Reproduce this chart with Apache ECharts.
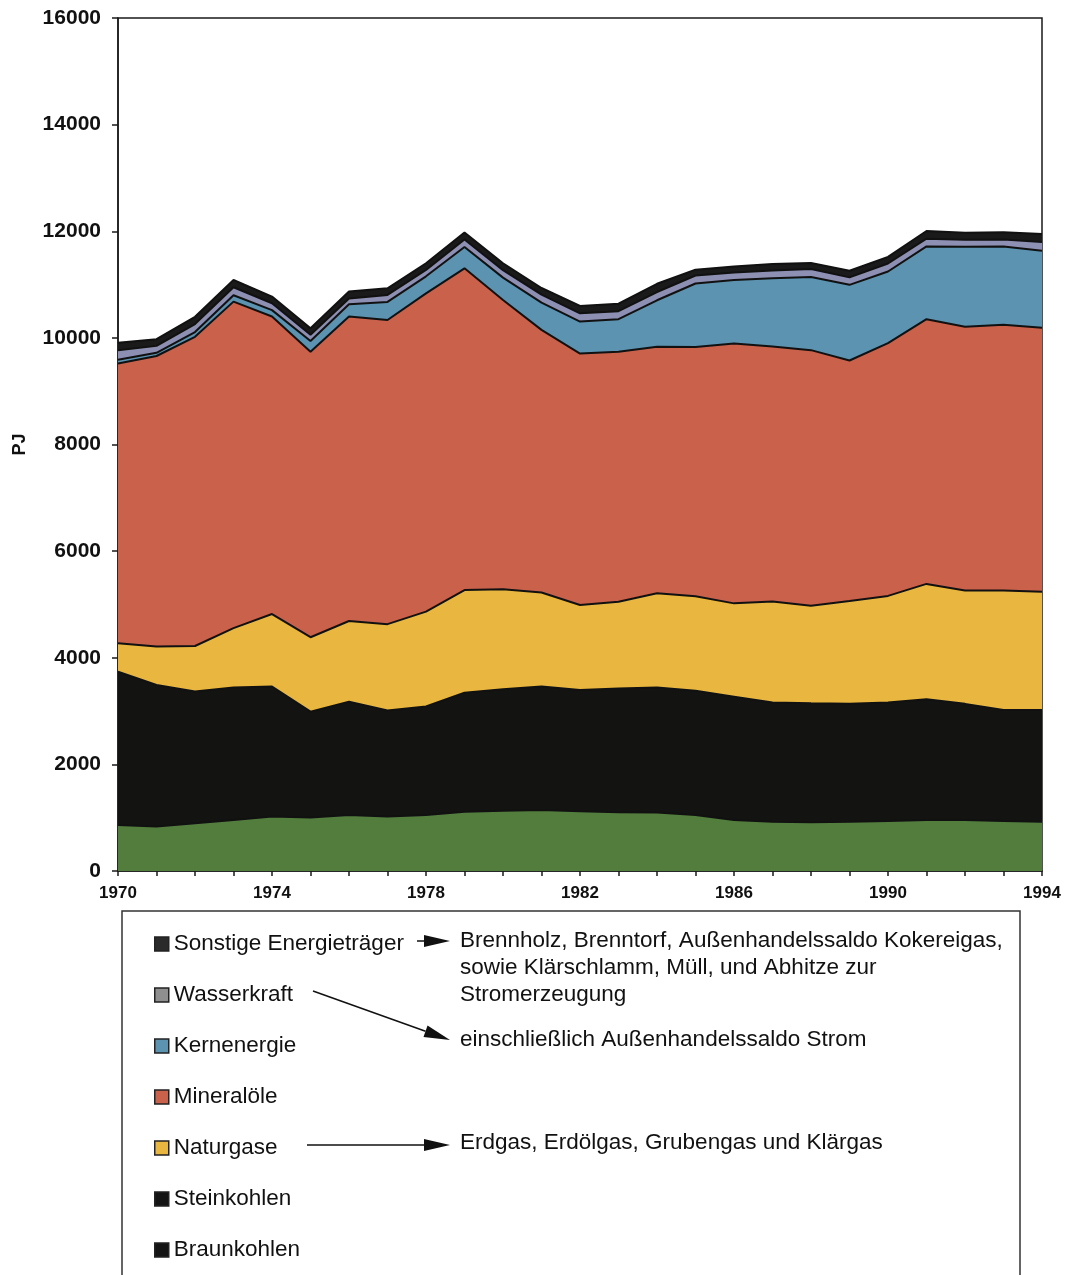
<!DOCTYPE html>
<html>
<head>
<meta charset="utf-8">
<script src="https://cdn.jsdelivr.net/npm/echarts@6/dist/echarts.min.js"></script>
<style>
  html, body { margin: 0; padding: 0; background: #ffffff; }
  #chart { width: 1066px; height: 1275px; }
</style>
</head>
<body>
<div id="chart"></div>
<script>
// Primärenergieverbrauch nach Energieträgern, 1970–1994, in PJ
const years = ['1970','1971','1972','1973','1974','1975','1976','1977','1978','1979','1980','1981','1982',
               '1983','1984','1985','1986','1987','1988','1989','1990','1991','1992','1993','1994'];

const braunkohlen = [865, 835, 895, 955, 1020, 1005, 1050, 1020, 1050, 1110, 1130, 1145, 1120,
                     1100, 1095, 1050, 955, 925, 915, 925, 940, 955, 955, 940, 925];
const steinkohlen = [2875, 2655, 2470, 2485, 2440, 1985, 2125, 1990, 2035, 2235, 2280, 2315, 2275,
                     2325, 2345, 2330, 2315, 2235, 2230, 2210, 2220, 2265, 2180, 2080, 2095];
const naturgase   = [530, 720, 855, 1115, 1360, 1395, 1515, 1620, 1780, 1925, 1875, 1765, 1595,
                     1625, 1770, 1775, 1750, 1895, 1830, 1930, 2000, 2165, 2125, 2240, 2220];
const mineraloele = [5250, 5450, 5800, 6125, 5580, 5355, 5710, 5705, 5970, 6035, 5425, 4925, 4715,
                     4690, 4625, 4675, 4875, 4785, 4795, 4510, 4740, 4965, 4950, 4985, 4950];
const kernenergie = [70, 60, 90, 120, 120, 200, 230, 340, 320, 400, 420, 510, 600,
                     610, 870, 1190, 1190, 1280, 1370, 1420, 1345, 1365, 1500, 1470, 1445];
const wasserkraft = [180, 130, 150, 150, 130, 120, 110, 130, 120, 140, 140, 150, 155,
                     150, 155, 150, 140, 145, 150, 140, 150, 145, 130, 130, 165];
const sonstige    = [140, 125, 135, 135, 125, 120, 130, 125, 125, 130, 130, 125, 140,
                     140, 155, 110, 115, 120, 115, 125, 125, 145, 130, 135, 150];

const yTicks = { min: 0, max: 16000, interval: 2000 };

const seriesDefs = [
  { name: 'Braunkohlen', data: braunkohlen, color: '#527d3d', legendColor: '#141414' },
  { name: 'Steinkohlen', data: steinkohlen, color: '#131311', legendColor: '#141414' },
  { name: 'Naturgase',   data: naturgase,   color: '#e9b740', legendColor: '#e9b740' },
  { name: 'Mineralöle',  data: mineraloele, color: '#c9614b', legendColor: '#c9614b' },
  { name: 'Kernenergie', data: kernenergie, color: '#5b93b1', legendColor: '#5b93b1' },
  { name: 'Wasserkraft', data: wasserkraft, color: '#8d8fb3', legendColor: '#8f8f8f' },
  { name: 'Sonstige Energieträger', data: sonstige, color: '#1a1a1a', legendColor: '#2a2a2a' }
];

const FONT = '"Liberation Sans", Arial, Helvetica, sans-serif';
const TEXT_SIZE = 22.5;

// Filled arrow: straight shaft plus a triangular head at the end point
function arrow(x1, y1, x2, y2, headLen, headHalf) {
  const dx = x2 - x1, dy = y2 - y1;
  const len = Math.sqrt(dx * dx + dy * dy);
  const ux = dx / len, uy = dy / len;
  const bx = x2 - ux * headLen, by = y2 - uy * headLen;
  const px = -uy * headHalf, py = ux * headHalf;
  return [
    { type: 'line', shape: { x1: x1, y1: y1, x2: bx, y2: by },
      style: { stroke: '#111', lineWidth: 1.5 }, z: 10 },
    { type: 'polygon', shape: { points: [[x2, y2], [bx + px, by + py], [bx - px, by - py]] },
      style: { fill: '#111' }, z: 10 }
  ];
}

function note(x, y, str) {
  return { type: 'text', x: x, y: y,
           style: { text: str, font: TEXT_SIZE + 'px ' + FONT, fill: '#111',
                    verticalAlign: 'middle', align: 'left' }, z: 10 };
}

const chart = echarts.init(document.getElementById('chart'), null, { renderer: 'canvas' });

chart.setOption({
  backgroundColor: '#ffffff',
  animation: false,
  grid: { left: 118, right: 24, top: 18, bottom: 404, show: true,
          borderColor: '#1a1a1a', borderWidth: 1.5, backgroundColor: 'transparent' },
  xAxis: {
    type: 'category',
    data: years,
    boundaryGap: false,
    axisLine: { lineStyle: { color: '#1a1a1a', width: 1.5 } },
    axisTick: { show: true, interval: 0, length: 5, lineStyle: { color: '#1a1a1a', width: 1.5 } },
    axisLabel: { interval: 3, margin: 14, color: '#111', fontFamily: FONT,
                 fontSize: 17, fontWeight: 'bold' },
    splitLine: { show: false }
  },
  yAxis: {
    type: 'value',
    min: yTicks.min, max: yTicks.max, interval: yTicks.interval,
    name: 'PJ',
    nameLocation: 'middle',
    nameGap: 89,
    nameRotate: 90,
    nameTextStyle: { color: '#111', fontFamily: FONT, fontSize: 18, fontWeight: 'bold' },
    axisLine: { show: true, lineStyle: { color: '#1a1a1a', width: 1.5 } },
    axisTick: { show: true, length: 6, lineStyle: { color: '#1a1a1a', width: 1.5 } },
    axisLabel: { margin: 17, color: '#111', fontFamily: FONT, fontSize: 21, fontWeight: 'bold',
                 formatter: v => String(v) },
    splitLine: { show: false }
  },
  legend: {
    orient: 'vertical',
    left: 149,
    top: 927,
    itemWidth: 14,
    itemHeight: 14,
    itemGap: 27,
    icon: 'rect',
    textStyle: { fontFamily: FONT, fontSize: TEXT_SIZE, color: '#111', lineHeight: 24 },
    data: seriesDefs.slice().reverse().map(s => ({
      name: s.name,
      itemStyle: { color: s.legendColor, borderColor: '#222', borderWidth: 1.5 }
    }))
  },
  series: seriesDefs.map(s => ({
    name: s.name,
    type: 'line',
    stack: 'total',
    data: s.data,
    symbol: 'none',
    smooth: false,
    color: s.color,
    lineStyle: { color: '#111', width: 2 },
    areaStyle: { color: s.color, opacity: 1 }
  })),
  graphic: [
    { type: 'rect', shape: { x: 122, y: 911, width: 898, height: 400 },
      style: { fill: 'none', stroke: '#333', lineWidth: 1.5 }, z: 5 },
    ...arrow(417, 941, 450, 941, 26, 6),
    ...arrow(313, 991, 450, 1040, 26, 6),
    ...arrow(307, 1145, 450, 1145, 26, 6),
    note(460, 941, 'Brennholz, Brenntorf, Außenhandelssaldo Kokereigas,'),
    note(460, 968, 'sowie Klärschlamm, Müll, und Abhitze zur'),
    note(460, 995, 'Stromerzeugung'),
    note(460, 1040, 'einschließlich Außenhandelssaldo Strom'),
    note(460, 1143, 'Erdgas, Erdölgas, Grubengas und Klärgas')
  ]
});
</script>
</body>
</html>
